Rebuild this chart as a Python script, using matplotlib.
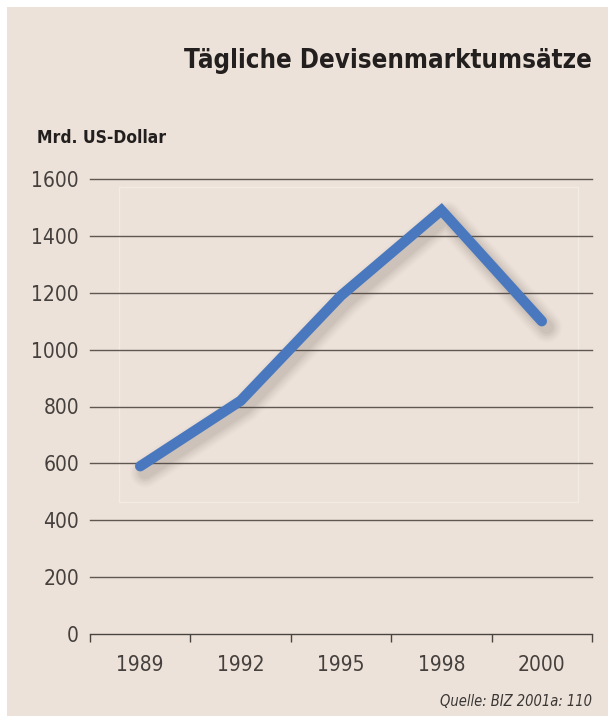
import numpy as np
import matplotlib.pyplot as plt
import matplotlib.transforms as mtransforms
from matplotlib.patches import Rectangle

# Data
years = ["1989", "1992", "1995", "1998", "2000"]
volume = [590, 820, 1190, 1490, 1100]
y_ticks = [0, 200, 400, 600, 800, 1000, 1200, 1400, 1600]

plt.rcParams["font.family"] = ["DejaVu Sans"]
plt.rcParams["font.stretch"] = "condensed"

bg = "#ece2d9"
W, H = 608, 720
fig = plt.figure(figsize=(W / 100, H / 100), dpi=100, facecolor="white")

# beige panel
fig.patches.append(Rectangle((7 / W, 4 / H), 1 - 7 / W, 1 - 11 / H,
                             transform=fig.transFigure, facecolor=bg,
                             edgecolor="none", zorder=-2))
# faint inner frame
fig.patches.append(Rectangle((119 / W, (H - 502) / H), (578 - 119) / W, (502 - 187) / H,
                             transform=fig.transFigure, facecolor="none",
                             edgecolor="#f3ece4", lw=1.0, zorder=-1))

ax = fig.add_axes([90 / W, (H - 634) / H, (592 - 90) / W, (634 - 179) / H])
ax.set_facecolor("none")

x = np.arange(len(years))

# gridlines
for v in y_ticks[1:]:
    ax.axhline(v, color="#5e5752", lw=1.0, zorder=1, clip_on=False)

# soft shadow layers
shift = ax.transData + mtransforms.ScaledTranslation(5 / 100, -6 / 100, fig.dpi_scale_trans)
for w, a in [(22, 0.025), (19, 0.035), (16, 0.045), (13, 0.055), (10, 0.06)]:
    ax.plot(x, volume, color="#5a5048", lw=w, alpha=a, solid_capstyle="round",
            solid_joinstyle="round", zorder=2, transform=shift, clip_on=False)

ax.plot(x, volume, color="#4a78bf", lw=7.5, solid_capstyle="round",
        solid_joinstyle="miter", zorder=3, clip_on=False)

ax.set_xlim(-0.5, len(years) - 0.5)
ax.set_ylim(0, 1600)

for s in ["left", "right", "top"]:
    ax.spines[s].set_visible(False)
ax.spines["bottom"].set_color("#4a4440")
ax.spines["bottom"].set_linewidth(1.0)

ax.set_yticks(y_ticks)
ax.set_yticklabels([str(v) for v in y_ticks], fontsize=15, color="#45403d",
                   fontweight="light")
ax.tick_params(axis="y", length=0, pad=8)

ax.set_xticks(x)
ax.set_xticklabels(years, fontsize=15, color="#45403d", fontweight="light")
ax.set_xticks(np.arange(-0.5, len(years)), minor=True)
ax.tick_params(axis="x", which="major", length=0, pad=15)
ax.tick_params(axis="x", which="minor", length=6, width=1.0, color="#4a4440", direction="out")

fig.text(592 / W, 1 - 61 / H, "Tägliche Devisenmarktumsätze", ha="right", va="center",
         fontsize=18.5, fontweight="bold", color="#231f1e")
fig.text(37 / W, 1 - 138 / H, "Mrd. US-Dollar", ha="left", va="center",
         fontsize=12.5, fontweight="bold", color="#231f1e")
fig.text(592 / W, 1 - 701 / H, "Quelle: BIZ 2001a: 110", ha="right", va="center",
         fontsize=10.5, style="italic", color="#3a3634")

fig.savefig("out.png", dpi=100, facecolor="white")
